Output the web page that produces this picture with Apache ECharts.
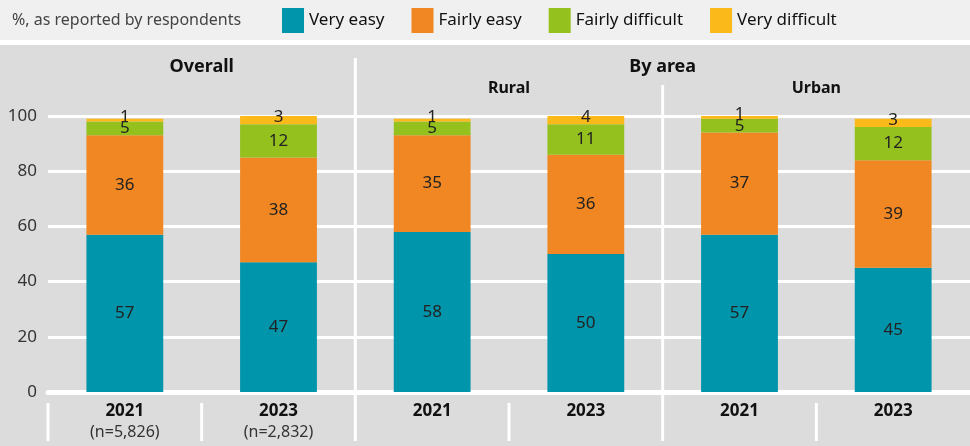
<!DOCTYPE html>
<html>
<head>
<meta charset="utf-8">
<script src="https://cdn.jsdelivr.net/npm/echarts@6/dist/echarts.min.js"></script>
<style>
  html, body { margin: 0; padding: 0; }
  #chart { width: 970px; height: 446px; }
</style>
</head>
<body>
<div id="chart"></div>
<script>
// categories and values
var categories = ['2021\n(n=5,826)', '2023\n(n=2,832)', '2021', '2023', '2021', '2023']
var veryEasy = [57, 47, 58, 50, 57, 45]
var fairlyEasy = [36, 38, 35, 36, 37, 39]
var fairlyDifficult = [5, 12, 5, 11, 5, 12]
var veryDifficult = [1, 3, 1, 4, 1, 3]
var yTicks = [0, 20, 40, 60, 80, 100]

var colors = ['#0095ab', '#f08723', '#95c11f', '#fbba1a']
var FONT = '"Noto Sans", sans-serif'

// layout
var W = 970, H = 446
var gridLeft = 48, gridTop = 116, gridBottom = 54
var catW = (W - gridLeft) / categories.length
function bx(i) { return gridLeft + i * catW }

function seg(name, data, color, extra) {
    var s = {
        name: name,
        type: 'bar',
        stack: 'all',
        barWidth: '50%',
        data: data,
        itemStyle: { color: color },
        label: {
            show: true,
            position: 'inside',
            color: '#222',
            fontSize: 17,
            fontFamily: FONT
        }
    }
    if (extra) s.label.offset = extra
    return s
}

var white = { stroke: '#fff', lineWidth: 3 }
var graphics = [
    { type: 'rect', z: -10, shape: { x: 0, y: 0, width: W, height: 40 }, style: { fill: '#f0f0f0' } },
    { type: 'rect', z: -10, shape: { x: 0, y: 40, width: W, height: 5 }, style: { fill: '#ffffff' } },
    { type: 'text', x: 12, y: 20, style: { text: '%, as reported by respondents', fill: '#444', fontSize: 16, fontFamily: FONT, verticalAlign: 'middle' } },
    // separators
    { type: 'line', shape: { x1: bx(2), y1: 58, x2: bx(2), y2: 441 }, style: white },
    { type: 'line', shape: { x1: bx(4), y1: 85, x2: bx(4), y2: 441 }, style: white }
]
;[0, 1, 3, 5].forEach(function (i) {
    graphics.push({ type: 'line', shape: { x1: bx(i), y1: 403, x2: bx(i), y2: 441 }, style: white })
})
// headers
function header(txt, cx, cy, size) {
    return { type: 'text', x: cx, y: cy, style: { text: txt, fill: '#111', fontSize: size, fontWeight: 'bold', fontFamily: FONT, align: 'center', verticalAlign: 'middle' } }
}
graphics.push(header('Overall', bx(1), 67, 18))
graphics.push(header('By area', bx(4), 67, 18))
graphics.push(header('Rural', bx(3), 88, 16))
graphics.push(header('Urban', bx(5), 88, 16))

var option = {
    backgroundColor: '#dcdcdc',
    animation: false,
    textStyle: { fontFamily: FONT },
    legend: {
        left: 282,
        top: 8,
        padding: 0,
        itemWidth: 22,
        itemHeight: 25,
        itemGap: 27,
        icon: 'rect',
        textStyle: { fontSize: 17, color: '#111', fontFamily: FONT },
        data: ['Very easy', 'Fairly easy', 'Fairly difficult', 'Very difficult']
    },
    grid: { left: gridLeft, right: 0, top: gridTop, bottom: gridBottom, containLabel: false },
    xAxis: {
        type: 'category',
        data: categories,
        axisLine: { lineStyle: { color: '#fff', width: 5 } },
        axisTick: { show: false },
        axisLabel: {
            margin: 9,
            interval: 0,
            formatter: function (v) {
                var p = v.split('\n')
                return p.length > 1 ? '{y|' + p[0] + '}\n{n|' + p[1] + '}' : '{y|' + p[0] + '}'
            },
            rich: {
                y: { fontSize: 17, fontWeight: 'bold', color: '#111', lineHeight: 21, fontFamily: FONT },
                n: { fontSize: 16, color: '#333', lineHeight: 20, fontFamily: FONT }
            }
        }
    },
    yAxis: {
        type: 'value',
        min: yTicks[0],
        max: yTicks[yTicks.length - 1],
        interval: 20,
        axisLine: { show: false },
        axisTick: { show: false },
        axisLabel: { margin: 11, fontSize: 17, color: '#333', fontFamily: FONT },
        splitLine: { lineStyle: { color: '#fff', width: 3 } }
    },
    graphic: graphics,
    series: [
        seg('Very easy', veryEasy, colors[0]),
        seg('Fairly easy', fairlyEasy, colors[1]),
        seg('Fairly difficult', fairlyDifficult, colors[2]),
        seg('Very difficult', veryDifficult, colors[3], [0, -3])
    ]
}

echarts.init(document.getElementById('chart')).setOption(option)
</script>
</body>
</html>
